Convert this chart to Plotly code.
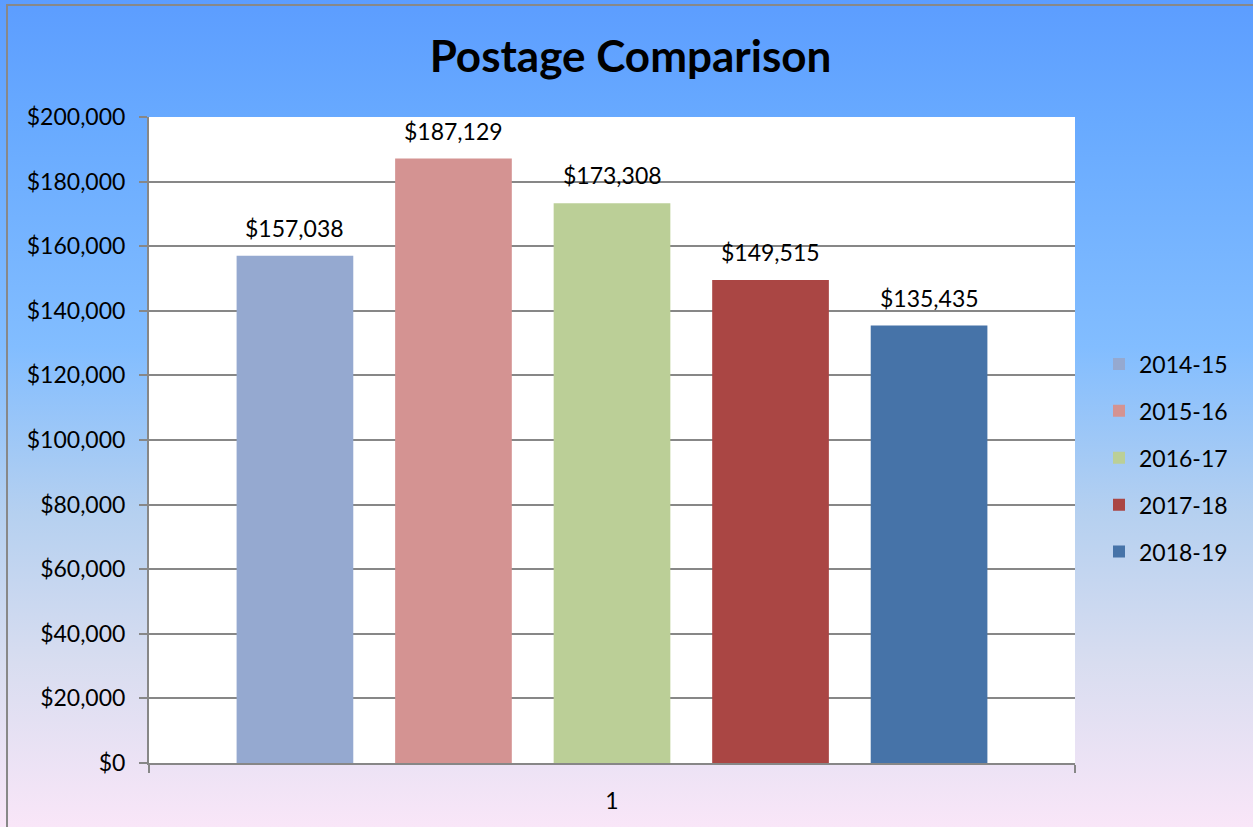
import plotly.graph_objects as go
import base64

categories = ["1"]
series_names = ["2014-15", "2015-16", "2016-17", "2017-18", "2018-19"]
series_values = [157038, 187129, 173308, 149515, 135435]
series_colors = ["#95A9D0", "#D49392", "#BBCF97", "#AA4644", "#4673A8"]
y_ticks = [0, 20000, 40000, 60000, 80000, 100000, 120000, 140000, 160000, 180000, 200000]
y_tick_labels = ["${:,}".format(v) for v in y_ticks]

W, H = 1253, 827
L, R, T, B = 149, 1075, 117, 763
FONT = "Lato"
FS = 23
BARGAP = 0.144
BARGROUPGAP = 0.264

fig = go.Figure()
for i, (name, val, col) in enumerate(zip(series_names, series_values, series_colors)):
    fig.add_trace(go.Bar(
        x=categories, y=[val], name=name, marker=dict(color=col, line=dict(width=0)),
        legendgroup=name,
    ))

# data labels as annotations above each grouped bar (category index coordinates)
n = len(series_values)
group_w = 1 - BARGAP
slot = group_w / n
for i, val in enumerate(series_values):
    xc = -group_w / 2 + slot * (i + 0.5)
    fig.add_annotation(x=xc, y=val, xref="x", yref="y", text="${:,}".format(val),
                       showarrow=False, yanchor="bottom", xanchor="center", yshift=12,
                       font=dict(family=FONT, size=FS, color="black"))

svg = (
    f'<svg xmlns="http://www.w3.org/2000/svg" width="{W}" height="{H}" viewBox="0 0 {W} {H}" preserveAspectRatio="none">'
    '<defs><linearGradient id="g" x1="0" y1="0" x2="0" y2="1">'
    '<stop offset="0" stop-color="#5C9DFF"/>'
    '<stop offset="0.15" stop-color="#68AAFF"/>'
    '<stop offset="0.42" stop-color="#82BDFF"/>'
    '<stop offset="0.62" stop-color="#B5D0F0"/>'
    '<stop offset="0.8" stop-color="#D8DDF0"/>'
    '<stop offset="1" stop-color="#F9E6F8"/>'
    '</linearGradient></defs>'
    f'<rect x="0" y="0" width="{W}" height="{H}" fill="url(#g)"/></svg>'
)
src = "data:image/svg+xml;base64," + base64.b64encode(svg.encode()).decode()

pw, ph = R - L, B - T
def px2x(px):
    return (px - L) / pw
def px2y(py):
    return (B - py) / ph

fig.add_layout_image(dict(
    source=src, xref="paper", yref="paper",
    x=px2x(0), y=px2y(0), sizex=W / pw, sizey=H / ph,
    xanchor="left", yanchor="top", sizing="stretch", layer="below",
))

# white plot area above the gradient image
fig.add_shape(type="rect", xref="paper", yref="paper", x0=0, x1=1, y0=0, y1=1,
              line=dict(width=0), fillcolor="white", layer="below")

# outer chart border
fig.add_shape(type="rect", xref="paper", yref="paper",
              x0=px2x(7), x1=px2x(W + 5), y0=px2y(H + 5), y1=px2y(5),
              line=dict(color="#888888", width=2), fillcolor="rgba(0,0,0,0)", layer="above")

fig.update_layout(
    width=W, height=H,
    margin=dict(l=L, r=W - R, t=T, b=H - B, pad=0),
    paper_bgcolor="white", plot_bgcolor="white",
    title=dict(text="<b>Postage Comparison</b>", x=630.5 / W, xanchor="center", y=1 - 57 / H, yanchor="middle",
               font=dict(family=FONT, size=44, color="black")),
    barmode="group", bargap=BARGAP, bargroupgap=BARGROUPGAP,
    font=dict(family=FONT, size=FS, color="black"),
    legend=dict(x=px2x(1099), xanchor="left", y=px2y(458), yanchor="middle",
                font=dict(family=FONT, size=FS, color="black"), bgcolor="rgba(0,0,0,0)",
                tracegroupgap=14, itemwidth=30),
    showlegend=True,
)
fig.update_yaxes(range=[0, 200000], tickvals=y_ticks, ticktext=y_tick_labels,
                 showgrid=True, gridcolor="#878787", gridwidth=1.5,
                 showline=True, linecolor="#878787", linewidth=2,
                 ticks="outside", ticklen=8, tickcolor="#878787", tickwidth=2,
                 ticklabelstandoff=9,
                 zeroline=False, tickfont=dict(family=FONT, size=FS, color="black"))
fig.update_xaxes(type="category", showline=True, linecolor="#878787", linewidth=2,
                 ticks="outside", tickson="boundaries", ticklen=8, tickcolor="#878787", tickwidth=2,
                 ticklabelstandoff=16,
                 showgrid=False, tickfont=dict(family=FONT, size=FS, color="black"))

fig.write_html("out.html", config={"displayModeBar": False},
               post_script="document.body.style.margin='0';document.body.style.overflow='hidden';")
